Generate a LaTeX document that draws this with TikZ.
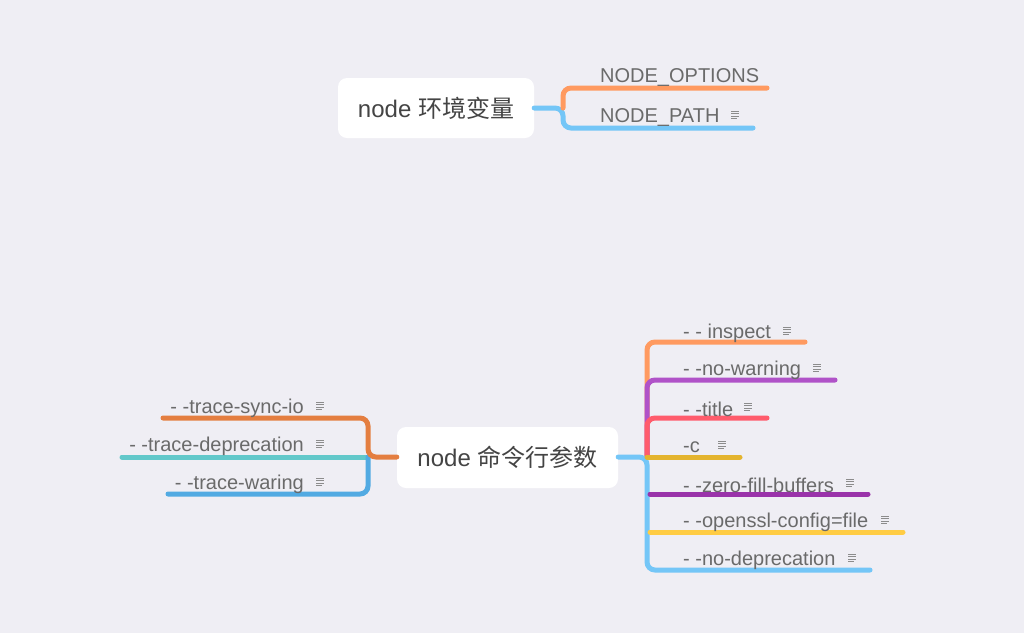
\documentclass[tikz,border=0pt]{standalone}
\usepackage{fontspec}
\setmainfont{Liberation Sans}
\newfontfamily\cjk{Noto Sans CJK SC}
\definecolor{bgc}{HTML}{EFEEF4}
\definecolor{txt}{HTML}{6A6A6A}
\definecolor{maintxt}{HTML}{444444}
\definecolor{cOrange}{HTML}{FF9A60}
\definecolor{cBlue}{HTML}{74C6F7}
\definecolor{cDarkOrange}{HTML}{E47E40}
\definecolor{cTeal}{HTML}{62C8CA}
\definecolor{cMidBlue}{HTML}{52AAE2}
\definecolor{cPurple}{HTML}{B052C8}
\definecolor{cRed}{HTML}{FF5C6C}
\definecolor{cGold}{HTML}{E4B42E}
\definecolor{cDarkPurple}{HTML}{9A33AA}
\definecolor{cYellow}{HTML}{FFCC44}
\tikzset{
  rootbox/.style={fill=white, rounded corners=9pt, minimum width=196pt, minimum height=60pt,
    text=maintxt, font=\fontsize{24}{27}\selectfont, inner sep=0pt},
  lbl/.style={text=txt, font=\fontsize{20}{23}\selectfont, inner sep=0pt},
  branch/.style={line width=5pt, line cap=round, rounded corners=8pt},
  noteicon/.pic={
    \draw[line width=0.9pt, color=gray!90] (-4,-3.3) -- (4,-3.3) (-4,-1.1) -- (4,-1.1) (-4,1.1) -- (4,1.1) (-4,3.3) -- (1.5,3.3);
  }
}
\begin{document}
\begin{tikzpicture}[x=1pt,y=-1pt]
\fill[bgc] (0,0) rectangle (1024,633);
\useasboundingbox (0,0) rectangle (1024,633);

% ---- top root ----
\node[rootbox] (r1) at (436,108) {node {\cjk 环境变量}};
\coordinate (j1) at (563,108);
\coordinate (e1a) at (767,88);
\coordinate (e1b) at (753,128);
\draw[branch, cBlue] (r1.east) -- (j1) -- (j1 |- e1b) -- (e1b);
\draw[branch, cOrange] (j1) -- (j1 |- e1a) -- (e1a);
\node[lbl, anchor=west] (l1a) at (600,77) {NODE\_OPTIONS};
\node[lbl, anchor=west] (l1b) at (600,117) {NODE\_PATH};
\pic at (735,115) {noteicon};

% ---- bottom root ----
\node[rootbox, minimum width=221pt, minimum height=61pt] (r2) at (507.5,457.5) {node {\cjk 命令行参数}};

% left side
\coordinate (jl) at (368,457);
\coordinate (el1) at (163,418);
\coordinate (el2) at (122,457);
\coordinate (el3) at (168,494);
\draw[branch, cTeal] (jl) -- (el2);
\draw[branch, cMidBlue] (jl) -- (jl |- el3) -- (el3);
\draw[branch, cDarkOrange] (r2.west |- jl) -- (jl) -- (jl |- el1) -- (el1);
\node[lbl, anchor=east] (ll1) at (304,408) {- -trace-sync-io};
\node[lbl, anchor=east] (ll2) at (304,446) {- -trace-deprecation};
\node[lbl, anchor=east] (ll3) at (304,484) {- -trace-waring};
\pic at (320,406) {noteicon};
\pic at (320,444) {noteicon};
\pic at (320,482) {noteicon};

% right side
\coordinate (jr) at (647,457);
\coordinate (er1) at (805,342);
\coordinate (er2) at (835,380);
\coordinate (er3) at (767,418);
\coordinate (er4) at (740,457);
\coordinate (er5) at (868,494);
\coordinate (er6) at (903,532);
\coordinate (er7) at (870,570);
\draw[branch, cOrange] (jr) -- (jr |- er1) -- (er1);
\draw[branch, cPurple] (jr) -- (jr |- er2) -- (er2);
\draw[branch, cRed] (jr) -- (jr |- er3) -- (er3);
\draw[branch, cBlue] (r2.east |- jr) -- (jr) -- (jr |- er7) -- (er7);
\draw[branch, cGold] (jr) -- (er4);
\draw[branch, cDarkPurple] ([xshift=3pt]jr |- er5) -- (er5);
\draw[branch, cYellow] ([xshift=3pt]jr |- er6) -- (er6);

\node[lbl, anchor=west] (lr1) at (683,333) {- - inspect};
\node[lbl, anchor=west] (lr2) at (683,370) {- -no-warning};
\node[lbl, anchor=west] (lr3) at (683,409) {- -title};
\node[lbl, anchor=west] (lr4) at (683,447) {-c};
\node[lbl, anchor=west] (lr5) at (683,485) {- -zero-fill-buffers};
\node[lbl, anchor=west] (lr6) at (683,522) {- -openssl-config=file};
\node[lbl, anchor=west] (lr7) at (683,560) {- -no-deprecation};
\pic at (787,331) {noteicon};
\pic at (817,368) {noteicon};
\pic at (748,407) {noteicon};
\pic at (722,445) {noteicon};
\pic at (850,483) {noteicon};
\pic at (885,520) {noteicon};
\pic at (852,558) {noteicon};
\end{tikzpicture}
\end{document}
